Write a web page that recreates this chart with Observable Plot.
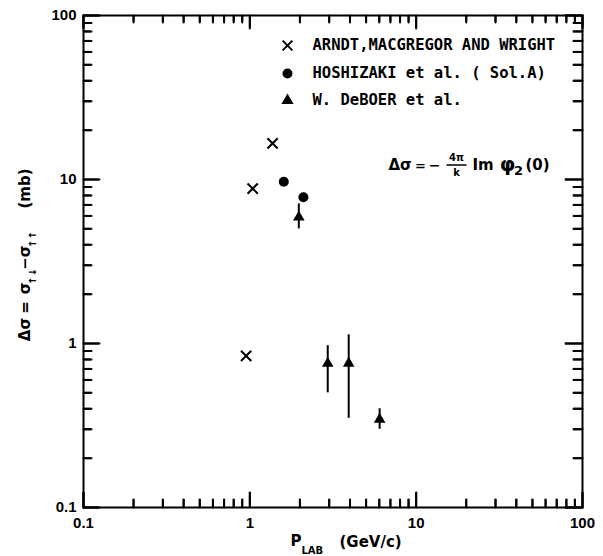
<!DOCTYPE html>
<html><head><meta charset="utf-8">
<script src="https://cdn.jsdelivr.net/npm/d3@7"></script>
<script src="https://cdn.jsdelivr.net/npm/@observablehq/plot@0.6"></script>
<style>body{margin:0;background:#fff}</style>
</head><body><div id="chart"></div>
<script>
// Data
const arndtP = [0.95, 1.04, 1.37];
const arndtDs = [0.84, 8.8, 16.6];
const hoshP = [1.6, 2.1];
const hoshDs = [9.7, 7.8];
const deboerP = [1.97, 2.94, 3.93, 6.03];
const deboerDs = [5.9, 0.755, 0.755, 0.344];
const deboerLo = [5.0, 0.50, 0.35, 0.30];
const deboerHi = [7.1, 0.97, 1.13, 0.40];
const majorTicks = [0.1, 1, 10, 100];
const tickLabels = ["0.1", "1", "10", "100"];
const minorMult = [2, 3, 4, 5, 6, 7, 8, 9];
const legendLabels = ["ARNDT,MACGREGOR AND WRIGHT", "HOSHIZAKI et al. ( Sol.A)", "W. DeBOER et al."];
// y-axis title pieces: [text, centre y in px, subscript?]
const yLabelParts = [["Δσ", 329, false], ["=", 307, false], ["σ", 288, false], ["↑↓", 276, true], ["−", 263, false], ["σ", 251, false], ["↑↑", 239, true], ["(mb)", 188, false]];

const arndt = arndtP.map((p, i) => ({p, ds: arndtDs[i]}));
const hosh = hoshP.map((p, i) => ({p, ds: hoshDs[i]}));
const deboer = deboerP.map((p, i) => ({p, ds: deboerDs[i], lo: deboerLo[i], hi: deboerHi[i]}));
const minorTicks = majorTicks.slice(0, -1).flatMap(d => minorMult.map(m => d * m));
const labelOf = new Map(majorTicks.map((d, i) => [d, tickLabels[i]]));

const W = 603, H = 556, ML = 83, MR = 21, MT = 15, MB = 49;
const FW = W - ML - MR, FH = H - MT - MB;

const F = "Liberation Sans";
const M = "DejaVu Sans Mono";
const D = "DejaVu Sans";
const hline = {draw(ctx) { ctx.moveTo(-10, 0); ctx.lineTo(10, 0); }};
const id = d => d;

const txt = (s, o) => Plot.text([s], {frameAnchor: "top-left", lineAnchor: "middle", fill: "black", fontWeight: "bold", ...o});
// inward ticks drawn as short vectors anchored on each side of the frame
const dirs = {bottom: [0, -1], top: [0, 1], left: [1, 0], right: [-1, 0]};
const vtick = (data, side, len) => {
  const [ux, uy] = dirs[side];
  const horiz = side === "bottom" || side === "top";
  return Plot.vector(data, {
    [horiz ? "x" : "y"]: id, frameAnchor: side, length: len, rotate: 0, anchor: "start",
    stroke: "black", strokeWidth: 2,
    shape: {draw(c, l) { c.moveTo(0, 0); c.lineTo(ux * l, uy * l); }}
  });
};
const ltick = (data, side, len) => {
  const insetKey = {bottom: "insetTop", top: "insetBottom", left: "insetRight", right: "insetLeft"}[side];
  const horiz = side === "bottom" || side === "top";
  return horiz
    ? Plot.tickX(data, {x: id, stroke: "black", strokeWidth: 2, [insetKey]: FH - len})
    : Plot.tickY(data, {y: id, stroke: "black", strokeWidth: 2, [insetKey]: FW - len});
};
const tickSpec = [
  [majorTicks, "bottom", 15], [minorTicks, "bottom", 8],
  [majorTicks, "top", 13], [minorTicks, "top", 7],
  [majorTicks, "left", 16], [minorTicks, "left", 8],
  [majorTicks, "right", 17], [minorTicks, "right", 9]
];
const frameMidY = MT + FH / 2;

const chart = Plot.plot({
  width: W, height: H,
  marginLeft: ML, marginRight: MR, marginTop: MT, marginBottom: MB,
  x: {type: "log", domain: [0.1, 100]},
  y: {type: "log", domain: [0.1, 100]},
  style: {background: "white", color: "black"},
  marks: [
    Plot.frame({stroke: "black", strokeWidth: 2}),
    ...tickSpec.map(([d, s, l]) => vtick(d, s, l)),
    // tick labels
    Plot.axisX(majorTicks, {anchor: "bottom", tickSize: 0, tickPadding: 10, tickFormat: d => labelOf.get(d), label: null, fontSize: 15, fontFamily: F, fontWeight: "bold", fill: "black"}),
    Plot.axisY(majorTicks, {anchor: "left", tickSize: 0, tickPadding: 7, tickFormat: d => labelOf.get(d), label: null, fontSize: 15, fontFamily: F, fontWeight: "bold", fill: "black"}),
    // data
    Plot.ruleX(deboer, {x: "p", y1: "lo", y2: "hi", stroke: "black", strokeWidth: 2}),
    Plot.dot(arndt, {x: "p", y: "ds", symbol: "times", r: 4.75, stroke: "black", strokeWidth: 2}),
    Plot.dot(hosh, {x: "p", y: "ds", symbol: "circle", r: 5, fill: "black"}),
    Plot.dot(deboer, {x: "p", y: "ds", symbol: "triangle", r: 4.3, fill: "black"}),
    // legend
    Plot.dot([0], {frameAnchor: "top-left", dx: 204, dy: 30, symbol: "times", r: 4.5, stroke: "black", strokeWidth: 2}),
    Plot.dot([0], {frameAnchor: "top-left", dx: 204, dy: 58, symbol: "circle", r: 5, fill: "black"}),
    Plot.dot([0], {frameAnchor: "top-left", dx: 204, dy: 85, symbol: "triangle", r: 4.5, fill: "black"}),
    txt(legendLabels[0], {dx: 229, dy: 30, fontFamily: M, fontSize: 15.5, textAnchor: "start"}),
    txt(legendLabels[1], {dx: 229, dy: 58, fontFamily: M, fontSize: 15.5, textAnchor: "start"}),
    txt(legendLabels[2], {dx: 229, dy: 85, fontFamily: M, fontSize: 15.5, textAnchor: "start"}),
    // formula
    txt("Δσ", {dx: 305, dy: 150, fontFamily: D, fontSize: 15, textAnchor: "start"}),
    txt("=", {dx: 337, dy: 150, fontFamily: D, fontSize: 13, textAnchor: "middle"}),
    txt("−", {dx: 351, dy: 150, fontFamily: D, fontSize: 14, textAnchor: "middle"}),
    txt("4π", {dx: 373, dy: 142, fontFamily: D, fontSize: 10, textAnchor: "middle"}),
    Plot.dot([0], {frameAnchor: "top-left", dx: 373, dy: 149.5, symbol: hline, fill: "none", stroke: "black", strokeWidth: 1.5}),
    txt("k", {dx: 373, dy: 157, fontFamily: D, fontSize: 10, textAnchor: "middle"}),
    txt("Im", {dx: 389, dy: 150, fontFamily: D, fontSize: 15, textAnchor: "start"}),
    txt("φ", {dx: 424, dy: 149, fontFamily: D, fontSize: 20, textAnchor: "middle"}),
    txt("2", {dx: 435, dy: 155, fontFamily: D, fontSize: 13, textAnchor: "middle"}),
    txt("(0)", {dx: 442, dy: 150, fontFamily: D, fontSize: 15, textAnchor: "start"}),
    // y-axis title, piece by piece (subscript arrows shifted to the right)
    ...yLabelParts.map(([s, cy, sub]) => Plot.text([s], {
      frameAnchor: "left", dx: sub ? -51 : -58, dy: cy - frameMidY, rotate: -90,
      textAnchor: "middle", lineAnchor: "middle", fontFamily: D, fontSize: sub ? 10 : 15, fontWeight: "bold", fill: "black"
    })),
    // x-axis title
    Plot.text(["P"], {frameAnchor: "bottom-left", lineAnchor: "middle", dx: 207, dy: 34, fontFamily: D, fontSize: 15, fontWeight: "bold", textAnchor: "start", fill: "black"}),
    Plot.text(["LAB"], {frameAnchor: "bottom-left", lineAnchor: "middle", dx: 218, dy: 43, fontFamily: D, fontSize: 10, fontWeight: "bold", textAnchor: "start", fill: "black"}),
    Plot.text(["(GeV/c)"], {frameAnchor: "bottom-left", lineAnchor: "middle", dx: 256, dy: 35, fontFamily: D, fontSize: 15, fontWeight: "bold", textAnchor: "start", fill: "black"}),
    ...tickSpec.map(([d, s, l]) => ltick(d, s, l))
  ]
});

document.getElementById("chart").append(chart);
</script>
</body></html>
